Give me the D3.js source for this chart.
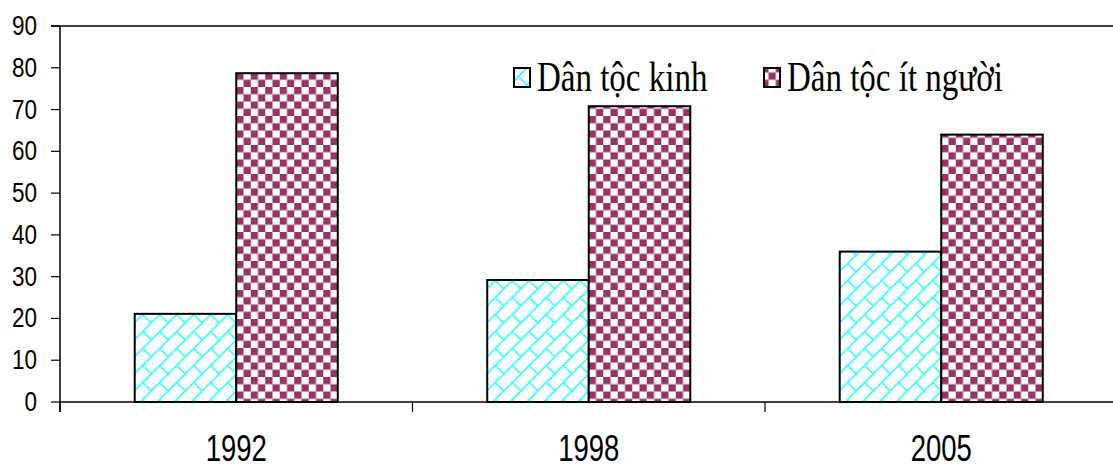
<!DOCTYPE html>
<html lang="vi">
<head>
    <meta charset="UTF-8">
    <title>Dân tộc</title>
    <script src="https://d3js.org/d3.v7.min.js"></script>
    <style>
        body { margin: 0; background: white; }
        svg { display: block; }
        .tick-label { font-family: "Liberation Sans", Arial, sans-serif; fill: black; }
        .legend text { font-family: "Liberation Serif", "Times New Roman", serif; fill: black; }
    </style>
</head>
<body>
<script>
    const width = 1113;
    const height = 468;

    const years = ["1992", "1998", "2005"];
    const kinh = [21.1, 29.2, 36.0];
    const itNguoi = [78.7, 70.8, 64.0];
    const seriesNames = ["Dân tộc kinh", "Dân tộc ít người"];
    const yTicks = [0, 10, 20, 30, 40, 50, 60, 70, 80, 90];

    const margin = {left: 60, top: 26, bottom: 66};

    const svg = d3.select("body").append("svg")
            .attr("width", width).attr("height", height);

    const defs = svg.append("defs");

    // diagonal brick hatch for the first series
    const s = 17;
    const brick = defs.append("pattern")
            .attr("id", "brick")
            .attr("patternUnits", "userSpaceOnUse")
            .attr("width", s).attr("height", s);
    brick.append("rect").attr("width", s).attr("height", s).attr("fill", "white");
    brick.append("path")
            .attr("d", `M${-s/2},${s/2} L${s/2},${-s/2} M0,${s} L${s},0 M${s/2},${s*1.5} L${s*1.5},${s/2} M${s/2},${s/2} L${s},${s}`)
            .attr("stroke", "#33ffff")
            .attr("stroke-width", 1.6)
            .attr("fill", "none");

    // checkerboard for the second series
    const c = 7.25;
    const checker = defs.append("pattern")
            .attr("id", "checker")
            .attr("patternUnits", "userSpaceOnUse")
            .attr("width", c * 2).attr("height", c * 2);
    checker.append("rect").attr("width", c * 2).attr("height", c * 2).attr("fill", "white");
    checker.append("rect").attr("width", c).attr("height", c).attr("fill", "#993366");
    checker.append("rect").attr("x", c).attr("y", c).attr("width", c).attr("height", c).attr("fill", "#993366");

    const fills = ["url(#brick)", "url(#checker)"];

    const x0 = d3.scaleBand()
            .domain(years)
            .range([margin.left, margin.left + 352.5 * 3])
            .padding(0);

    const y = d3.scaleLinear()
            .domain([0, 90])
            .range([height - margin.bottom, margin.top]);

    const barW = x0.bandwidth() * 0.288;

    const data = years.map((yr, i) => ({year: yr, values: [kinh[i], itNguoi[i]]}));

    // bars
    const groups = svg.selectAll("g.year")
            .data(data)
            .enter()
            .append("g")
            .attr("class", "year")
            .attr("transform", d => `translate(${x0(d.year) + x0.bandwidth() / 2},0)`);

    groups.selectAll("rect")
            .data(d => d.values)
            .enter()
            .append("rect")
            .attr("x", (d, i) => i === 0 ? -barW : 0)
            .attr("y", d => y(d))
            .attr("width", barW)
            .attr("height", d => y(0) - y(d))
            .attr("fill", (d, i) => fills[i])
            .attr("stroke", "black")
            .attr("stroke-width", 2);

    // frame top line
    svg.append("line")
            .attr("x1", margin.left - 9).attr("x2", width)
            .attr("y1", y(90)).attr("y2", y(90))
            .attr("stroke", "black").attr("stroke-width", 1.5);

    // y axis
    svg.append("line")
            .attr("x1", margin.left).attr("x2", margin.left)
            .attr("y1", y(90)).attr("y2", y(0) + 10)
            .attr("stroke", "black").attr("stroke-width", 1.5);

    svg.selectAll("line.ytick")
            .data(yTicks)
            .enter()
            .append("line")
            .attr("class", "ytick")
            .attr("x1", margin.left - 9).attr("x2", margin.left)
            .attr("y1", d => y(d)).attr("y2", d => y(d))
            .attr("stroke", "black").attr("stroke-width", 1.2);

    svg.selectAll("text.ylab")
            .data(yTicks)
            .enter()
            .append("text")
            .attr("class", "ylab tick-label")
            .attr("text-anchor", "end")
            .attr("transform", d => `translate(37,${y(d) + 9}) scale(1,1.24)`)
            .style("font-size", "22.5px")
            .text(d => d);

    // x axis
    svg.append("line")
            .attr("x1", margin.left).attr("x2", width)
            .attr("y1", y(0)).attr("y2", y(0))
            .attr("stroke", "black").attr("stroke-width", 1.5);

    svg.selectAll("line.xtick")
            .data(years)
            .enter()
            .append("line")
            .attr("class", "xtick")
            .attr("x1", d => x0(d)).attr("x2", d => x0(d))
            .attr("y1", y(0)).attr("y2", y(0) + 10)
            .attr("stroke", "black").attr("stroke-width", 1.2);

    svg.selectAll("text.xlab")
            .data(years)
            .enter()
            .append("text")
            .attr("class", "xlab tick-label")
            .attr("text-anchor", "middle")
            .attr("transform", d => `translate(${x0(d) + x0.bandwidth() / 2},461) scale(1,1.36)`)
            .style("font-size", "27.5px")
            .text(d => d);

    // legend
    const legend = svg.append("g").attr("class", "legend");
    const legendX = [514, 764];
    seriesNames.forEach((name, i) => {
        legend.append("rect")
                .attr("x", legendX[i]).attr("y", 68)
                .attr("width", 16).attr("height", 19)
                .attr("fill", fills[i])
                .attr("stroke", "black").attr("stroke-width", 2);
        legend.append("text")
                .attr("transform", `translate(${legendX[i] + 23},91) scale(1,1.28)`)
                .style("font-size", "33px")
                .text(name);
    });
</script>
</body>
</html>
